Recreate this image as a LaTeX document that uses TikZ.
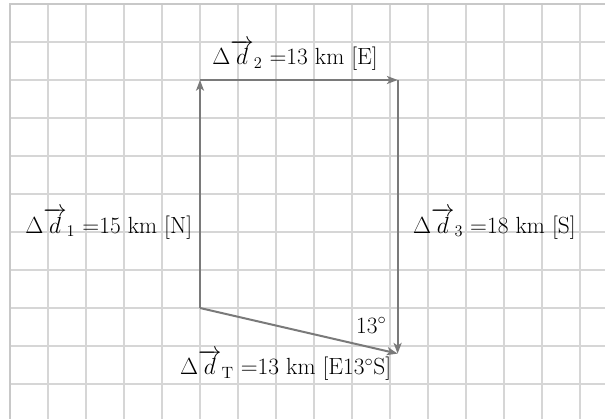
\documentclass[tikz,border=0pt]{standalone}
\usepackage{fix-cm}
\usepackage{amsmath,amssymb}
\usepackage{xcolor}
\usepackage{tikz}
\usetikzlibrary{arrows.meta,positioning}
\definecolor{gridgray}{RGB}{214,214,214}
\definecolor{framegray}{RGB}{200,200,200}
\definecolor{vecgray}{RGB}{122,122,122}

\begin{document}
\begin{tikzpicture}[
  >={Stealth[length=2.8mm,width=2.1mm,inset=0.7mm]},
  font=\fontsize{17.5}{21}\selectfont,
  gridline/.style={draw=gridgray,line width=1.1pt},
  frameline/.style={draw=framegray,line width=1.6pt},
  vec/.style={->,draw=vecgray,line width=1.5pt},
  lbl/.style={inner sep=2pt}
]
\useasboundingbox (-0.263,-10.921) rectangle (15.658,0.105);
\draw[gridline] (0,-10.95) grid (15.7,0);
\draw[frameline] (0,-10.95) -- (0,0) -- (15.7,0);
\coordinate (start) at (5,-8);
\coordinate (nw) at (5,-2);
\coordinate (ne) at (10.2,-2);
\coordinate (end) at (10.2,-9.2);
\draw[vec] (start) -- (nw);
\draw[vec] (nw) -- (ne);
\draw[vec] (ne) -- (end);
\draw[vec] (start) -- (end);
\node[lbl,anchor=base west] (lbl2) at (5.25,-1.6) {$\Delta\overrightarrow{d}_2$ =13 km [E]};
\node[lbl,anchor=base east] (lbl1) at (4.87,-6.03) {$\Delta\overrightarrow{d}_1$ =15 km [N]};
\node[lbl,anchor=base west] (lbl3) at (10.53,-6.03) {$\Delta\overrightarrow{d}_3$ =18 km [S]};
\node[lbl,anchor=base west] (ang) at (9.03,-8.66) {13$^\circ$};
\node[lbl,anchor=base west] (lblT) at (4.4,-9.76) {$\Delta\overrightarrow{d}_{\mathrm{T}}$ =13 km [E13$^\circ$S]};
\end{tikzpicture}
\end{document}
